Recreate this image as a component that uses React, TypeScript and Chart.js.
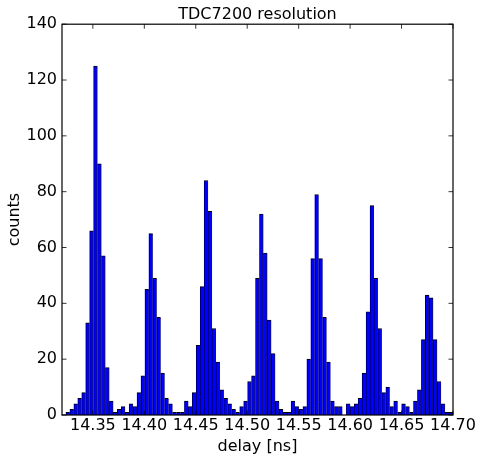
import React, { useEffect, useRef } from "react";
import { Chart, registerables } from "chart.js";

Chart.register(...registerables);

// Histogram bins: from binStart to binEnd, one count per bin
const binStart = 14.32;
const binEnd = 14.7;
const counts = [
  0, 1, 2, 4, 6, 8, 33, 66, 125, 90,
  57, 17, 5, 1, 2, 3, 1, 4, 3, 8,
  14, 45, 65, 49, 35, 15, 6, 4, 1, 1,
  1, 5, 3, 8, 25, 46, 84, 73, 31, 19,
  9, 6, 4, 2, 1, 3, 5, 12, 14, 49,
  72, 58, 34, 22, 5, 2, 1, 1, 5, 3,
  2, 3, 20, 56, 79, 56, 35, 19, 5, 3,
  3, 0, 4, 3, 4, 6, 15, 37, 75, 49,
  31, 8, 10, 3, 5, 1, 4, 3, 1, 5,
  9, 27, 43, 42, 27, 12, 4, 1, 1,
];
const xTicks = [14.35, 14.4, 14.45, 14.5, 14.55, 14.6, 14.65, 14.7];
const yTicks = [0, 20, 40, 60, 80, 100, 120, 140];
const titleText = "TDC7200 resolution";
const xLabel = "delay [ns]";
const yLabel = "counts";

const FONT = "'DejaVu Sans', sans-serif";

export default function App() {
  const ref = useRef<HTMLCanvasElement>(null);

  useEffect(() => {
    if (!ref.current) return;
    const binWidth = (binEnd - binStart) / counts.length;
    const data = counts.map((c, i) => ({ x: binStart + (i + 0.5) * binWidth, y: c }));

    const framePlugin = {
      id: "frame",
      afterDraw(chart: any) {
        const { ctx, chartArea: a, scales } = chart;
        ctx.save();
        ctx.strokeStyle = "#000";
        ctx.lineWidth = 0.8;
        const L = 4.5;
        ctx.beginPath();
        for (const v of xTicks) {
          const px = scales.x.getPixelForValue(v);
          ctx.moveTo(px, a.bottom);
          ctx.lineTo(px, a.bottom - L);
          ctx.moveTo(px, a.top);
          ctx.lineTo(px, a.top + L);
        }
        for (const v of yTicks) {
          const py = scales.y.getPixelForValue(v);
          ctx.moveTo(a.left, py);
          ctx.lineTo(a.left + L, py);
          ctx.moveTo(a.right, py);
          ctx.lineTo(a.right - L, py);
        }
        ctx.stroke();
        ctx.lineWidth = 1.2;
        ctx.strokeRect(a.left, a.top, a.right - a.left, a.bottom - a.top);
        ctx.restore();
      },
    };

    const chart = new Chart(ref.current, {
      type: "bar",
      data: {
        datasets: [
          {
            data,
            backgroundColor: "#0000ff",
            borderColor: "#000000",
            borderWidth: { top: 1, left: 1, right: 0, bottom: 0 },
            borderSkipped: false,
            barPercentage: 1,
            categoryPercentage: 1,
          } as any,
        ],
      },
      options: {
        responsive: false,
        animation: false,
        layout: { padding: { left: 0, right: 29, top: 0, bottom: 0 } },
        plugins: {
          legend: { display: false },
          tooltip: { enabled: false },
          title: {
            display: true,
            fullSize: false,
            text: titleText,
            color: "#000",
            font: { family: FONT, size: 16, weight: "normal", lineHeight: 1.2 },
            padding: { top: 5, bottom: 0 },
          },
        },
        scales: {
          x: {
            type: "linear",
            min: binStart,
            max: binEnd,
            offset: false,
            grid: { display: false, drawTicks: false },
            border: { display: false },
            afterBuildTicks: (s: any) => {
              s.ticks = xTicks.map((v) => ({ value: v }));
            },
            afterFit: (s: any) => {
              s.height = 46;
            },
            ticks: {
              color: "#000",
              font: { family: FONT, size: 16 },
              padding: 1,
              maxRotation: 0,
              autoSkip: false,
              callback: (v: any) => Number(v).toFixed(2),
            },
            title: {
              display: true,
              text: xLabel,
              color: "#000",
              font: { family: FONT, size: 16 },
              padding: { top: 0, bottom: 5 },
            },
          },
          y: {
            type: "linear",
            min: 0,
            max: 140,
            grid: { display: false, drawTicks: false },
            border: { display: false },
            afterBuildTicks: (s: any) => {
              s.ticks = yTicks.map((v) => ({ value: v }));
            },
            afterFit: (s: any) => {
              s.width = 62;
            },
            ticks: {
              color: "#000",
              font: { family: FONT, size: 16 },
              padding: 5,
              callback: (v: any) => String(v),
            },
            title: {
              display: true,
              text: yLabel,
              color: "#000",
              font: { family: FONT, size: 16 },
              padding: { top: 5, bottom: 0 },
            },
          },
        },
      } as any,
      plugins: [framePlugin],
    });

    return () => chart.destroy();
  }, []);

  return (
    <div style={{ position: "fixed", left: 0, top: 0, width: 482, height: 461, background: "#fff" }}>
      <canvas ref={ref} width={482} height={461} style={{ display: "block" }} />
    </div>
  );
}
